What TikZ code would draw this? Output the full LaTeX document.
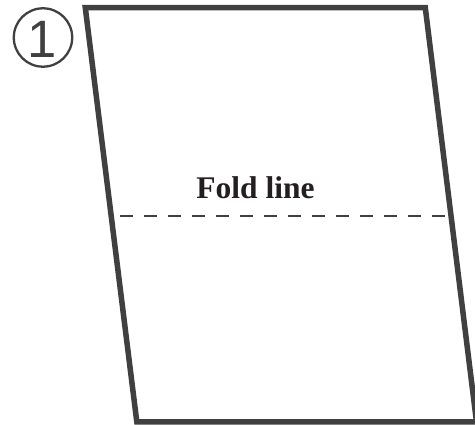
\documentclass[tikz,border=0pt]{standalone}
\usepackage{fontspec}
\setmainfont{Liberation Serif}
\newfontfamily\digitfont{Liberation Sans}
\definecolor{framegray}{HTML}{404040}
\definecolor{textblack}{HTML}{231F20}
\begin{document}
\begin{tikzpicture}[x=1pt,y=-1pt,
  framestyle/.style={draw=framegray,line width=5.5pt,line join=miter},
  foldstyle/.style={draw=framegray,line width=2.8pt,dash pattern=on 13pt off 11pt},
  labelstyle/.style={font=\fontsize{31.5}{34}\selectfont\bfseries,text=textblack,inner sep=0pt},
  numstyle/.style={font=\digitfont\fontsize{52.6}{56}\selectfont,text=framegray,inner sep=0pt}]
\useasboundingbox (0,0) rectangle (475,425);
\clip (0,0) rectangle (475,425);
\coordinate (tl) at (85.3,7.75);
\coordinate (tr) at (425.3,7.75);
\coordinate (br) at (476.5,421.8);
\coordinate (bl) at (136.8,421.8);
\draw[framestyle] (tl) -- (tr) -- (br) -- (bl) -- cycle;
\coordinate (fl) at (120,216);
\coordinate (fr) at (445,216);
\draw[foldstyle] (fl) -- (fr);
\node[labelstyle,anchor=base] (fold) at (255.5,198.3) {Fold line};
\node[draw=framegray,line width=2.3pt,circle,minimum size=58.4pt,inner sep=0pt] (circ) at (43,37.5) {};
\node[numstyle,anchor=base west] (num) at (27,57.7) {1};
\end{tikzpicture}
\end{document}
